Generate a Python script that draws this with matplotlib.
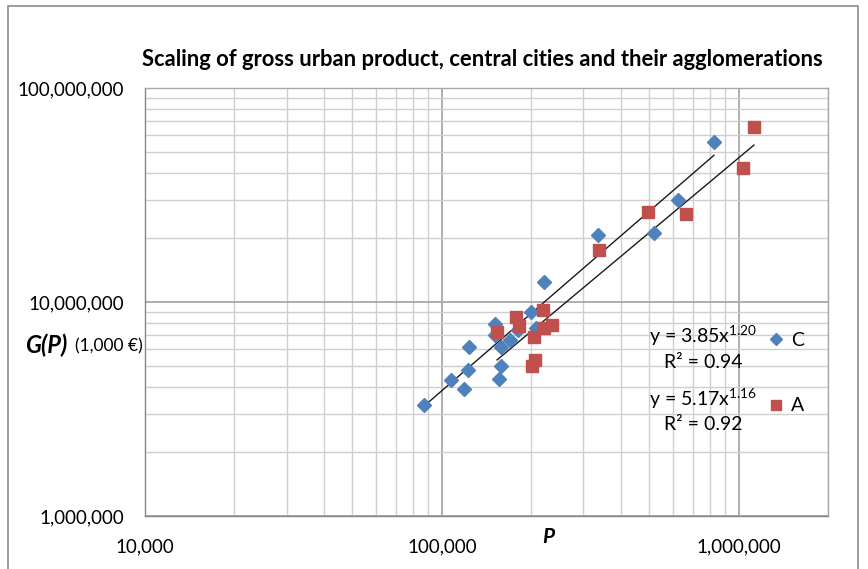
import matplotlib
matplotlib.use("Agg")
import matplotlib.pyplot as plt
import numpy as np
from matplotlib.lines import Line2D
from matplotlib.patches import Rectangle

plt.rcParams['font.family'] = ['Lato', 'DejaVu Sans']
plt.rcParams['mathtext.fontset'] = 'custom'
plt.rcParams['mathtext.rm'] = 'Lato'

# central cities (C)
pop_c = [86800, 107400, 118500, 122200, 123800, 150700, 151500, 158400,
         158700, 156300, 170200, 181100, 200400, 207800, 221700, 335400,
         518000, 625000, 825500]
gdp_c = [3.29e6, 4.30e6, 3.94e6, 4.79e6, 6.14e6, 7.89e6, 7.03e6, 6.16e6,
         5.00e6, 4.38e6, 6.67e6, 7.40e6, 8.94e6, 7.56e6, 1.235e7, 2.05e7,
         2.10e7, 3.01e7, 5.59e7]

# agglomerations (A)
pop_a = [153500, 177700, 181900, 219100, 205100, 220400, 235300, 206700,
         201200, 339700, 496000, 665300, 1037000, 1126000]
gdp_a = [7.22e6, 8.51e6, 7.69e6, 9.20e6, 6.88e6, 7.53e6, 7.79e6, 5.35e6,
         5.00e6, 1.742e7, 2.63e7, 2.58e7, 4.22e7, 6.59e7]

# fitted power laws y = a * x^b, R^2
fit_c = (3.85, 1.20, 0.94)
fit_a = (5.17, 1.16, 0.92)

xticks = [1e4, 1e5, 1e6]
xticklabels = ['10,000', '100,000', '1,000,000']
yticks = [1e6, 1e7, 1e8]
yticklabels = ['1,000,000', '10,000,000', '100,000,000']

blue = '#4f81bd'
red = '#c0504d'

fig = plt.figure(figsize=(8.68, 5.69), dpi=100)
W, H = 868.0, 569.0
ax = fig.add_axes([145 / W, 1 - 516 / H, (828 - 145) / W, (516 - 88) / H])

ax.set_xscale('log')
ax.set_yscale('log')
ax.set_xlim(1e4, 2e6)
ax.set_ylim(1e6, 1e8)

ax.grid(True, which='minor', color='#cfcfcf', lw=1.0)
ax.grid(True, which='major', color='#a8a8a8', lw=1.3)
ax.set_axisbelow(True)
for s in ax.spines.values():
    s.set_color('#a8a8a8')
    s.set_linewidth(1.0)
ax.spines['left'].set_color('#868686')
ax.spines['bottom'].set_color('#868686')

ax.set_xticks(xticks)
ax.set_xticklabels(xticklabels)
ax.set_yticks(yticks)
ax.set_yticklabels(yticklabels)
ax.tick_params(which='both', length=0)
ax.tick_params(axis='x', pad=16, labelsize=13.5)
ax.tick_params(axis='y', pad=15, labelsize=13.5)

# trend lines over each series range
for pop, fit in [(pop_c, fit_c), (pop_a, fit_a)]:
    xs = np.array([min(pop), max(pop)])
    ax.plot(xs, fit[0] * xs ** fit[1], color='#1a1a1a', lw=1.0, zorder=3)

ax.plot(pop_c, gdp_c, 'D', color=blue, ms=7.5, mec=blue, zorder=4)
ax.plot(pop_a, gdp_a, 's', color=red, ms=8, mec=red, zorder=4)

# equations
for fit, yc in [(fit_c, 336), (fit_a, 399)]:
    fig.text(703 / W, 1 - yc / H,
             'y = %.2fx$^{\\mathrm{%.2f}}$' % (fit[0], fit[1]),
             ha='center', va='center', fontsize=14)
    fig.text(703 / W, 1 - (yc + 26) / H, 'R² = %.2f' % fit[2],
             ha='center', va='center', fontsize=14)

# legend
handles = [Line2D([], [], ls='none', marker='D', color=blue, ms=6.5),
           Line2D([], [], ls='none', marker='s', color=red, ms=7)]
fig.legend(handles, ['C', 'A'], loc='center left',
           bbox_to_anchor=(768 / W, 1 - 373 / H), frameon=False,
           fontsize=14, handlelength=0.8, handletextpad=0.4,
           labelspacing=2.5, borderpad=0, borderaxespad=0)

fig.text(482 / W, 1 - 60 / H,
         'Scaling of gross urban product, central cities and their agglomerations',
         ha='center', va='center', fontsize=15.8, fontweight='bold')
fig.text(25 / W, 1 - 345 / H, 'G(P)', ha='left', va='center',
         fontsize=17, fontweight='bold', style='italic')
fig.text(75 / W, 1 - 346 / H, '(1,000 €)', ha='left', va='center',
         fontsize=12.5)
fig.text(548 / W, 1 - 537 / H, 'P', ha='center', va='center',
         fontsize=15, fontweight='bold', style='italic')

fig.patches.append(Rectangle((8 / W, -0.02), 850 / W, 1.02 - 6 / H,
                             transform=fig.transFigure, fill=False,
                             edgecolor='#8c8c8c', lw=1.2))

fig.savefig('out.png', dpi=100)
